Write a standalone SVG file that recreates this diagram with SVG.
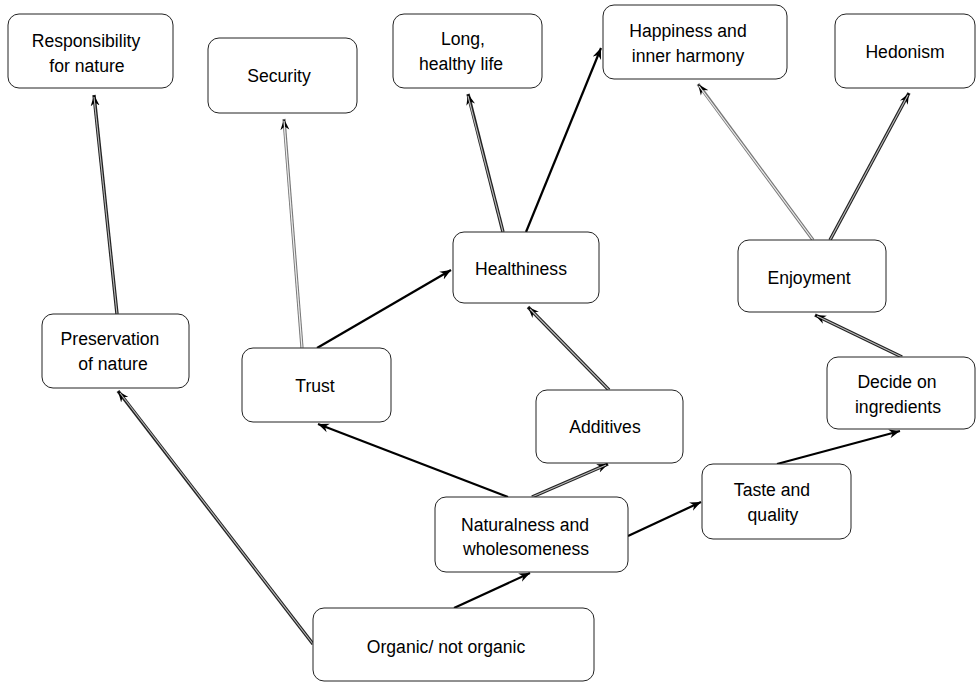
<svg xmlns="http://www.w3.org/2000/svg" width="976" height="682" viewBox="0 0 976 682">
<style>
.box{fill:#fff;stroke:#222;stroke-width:1}
text{font-family:"Liberation Sans",Arial,sans-serif;font-size:17.6px;fill:#000;text-anchor:middle}
.s{fill:none;stroke:#000;stroke-width:2.2}
.d{fill:none;stroke:#222;stroke-width:3.4}
.dm{fill:none;stroke:#bbb;stroke-width:1.1}
.g{fill:none;stroke:#777;stroke-width:3.2}
.gm{fill:none;stroke:#eee;stroke-width:1.2}
</style>
<defs>
<marker id="a" markerUnits="userSpaceOnUse" markerWidth="12" markerHeight="10" refX="11" refY="5" orient="auto">
<path d="M0,0.5 L11,5 L0,9.5 L3.5,5 z" fill="#000"/>
</marker>
</defs>
<g id="connectors">
<path class="d" d="M117,314 L94,95" marker-end="url(#a)"/><path class="dm" d="M117,314 L94,97"/>
<path class="g" d="M302,348 L284,119" marker-end="url(#a)"/><path class="gm" d="M302,348 L284,121"/>
<path class="s" d="M317,348 L451,270" marker-end="url(#a)"/>
<path class="d" d="M503,232 L468,94" marker-end="url(#a)"/><path class="dm" d="M503,232 L468,96"/>
<path class="s" d="M526,232 L601,48" marker-end="url(#a)"/>
<path class="g" d="M813,240 L698,84" marker-end="url(#a)"/><path class="gm" d="M813,240 L699,86"/>
<path class="d" d="M830,240 L909,93" marker-end="url(#a)"/><path class="dm" d="M830,240 L908,95"/>
<path class="d" d="M609,390 L528,307" marker-end="url(#a)"/><path class="dm" d="M609,390 L530,309"/>
<path class="d" d="M902,357 L815,315" marker-end="url(#a)"/><path class="dm" d="M902,357 L817,316"/>
<path class="s" d="M508,497 L318,424" marker-end="url(#a)"/>
<path class="d" d="M532,497 L608,464" marker-end="url(#a)"/><path class="dm" d="M532,497 L606,465"/>
<path class="s" d="M628,536 L701,502" marker-end="url(#a)"/>
<path class="s" d="M777,464 L900,431" marker-end="url(#a)"/>
<path class="s" d="M454,608 L530,573" marker-end="url(#a)"/>
<path class="d" d="M313,644 L118,391" marker-end="url(#a)"/><path class="dm" d="M313,644 L120,393"/>
</g>
<g id="responsibility"><rect class="box" x="8" y="14" width="165" height="74" rx="11"/><text x="86" y="47">Responsibility</text><text x="87" y="72">for nature</text></g>
<g id="security"><rect class="box" x="208" y="38" width="149" height="75" rx="11"/><text x="279" y="82">Security</text></g>
<g id="long-life"><rect class="box" x="393" y="14" width="149" height="74" rx="11"/><text x="463" y="45">Long,</text><text x="461" y="70">healthy life</text></g>
<g id="happiness"><rect class="box" x="603" y="5" width="184" height="74" rx="11"/><text x="688" y="37">Happiness and</text><text x="688" y="62">inner harmony</text></g>
<g id="hedonism"><rect class="box" x="835" y="14" width="140" height="74" rx="11"/><text x="905" y="58">Hedonism</text></g>
<g id="preservation"><rect class="box" x="42" y="314" width="147" height="74" rx="11"/><text x="110" y="345">Preservation</text><text x="113" y="370">of nature</text></g>
<g id="trust"><rect class="box" x="242" y="348" width="149" height="74" rx="11"/><text x="315" y="392">Trust</text></g>
<g id="healthiness"><rect class="box" x="453" y="232" width="146" height="71" rx="11"/><text x="521" y="275">Healthiness</text></g>
<g id="additives"><rect class="box" x="536" y="390" width="147" height="73" rx="11"/><text x="605" y="433">Additives</text></g>
<g id="enjoyment"><rect class="box" x="738" y="240" width="148" height="72" rx="11"/><text x="809" y="284">Enjoyment</text></g>
<g id="decide"><rect class="box" x="827" y="357" width="148" height="72" rx="11"/><text x="897" y="388">Decide on</text><text x="898" y="413">ingredients</text></g>
<g id="taste"><rect class="box" x="702" y="464" width="149" height="75" rx="11"/><text x="772" y="496">Taste and</text><text x="773" y="521">quality</text></g>
<g id="naturalness"><rect class="box" x="435" y="497" width="193" height="75" rx="11"/><text x="525" y="531">Naturalness and</text><text x="526" y="555">wholesomeness</text></g>
<g id="organic"><rect class="box" x="313" y="608" width="281" height="73" rx="11"/><text x="446" y="653">Organic/ not organic</text></g>
</svg>
